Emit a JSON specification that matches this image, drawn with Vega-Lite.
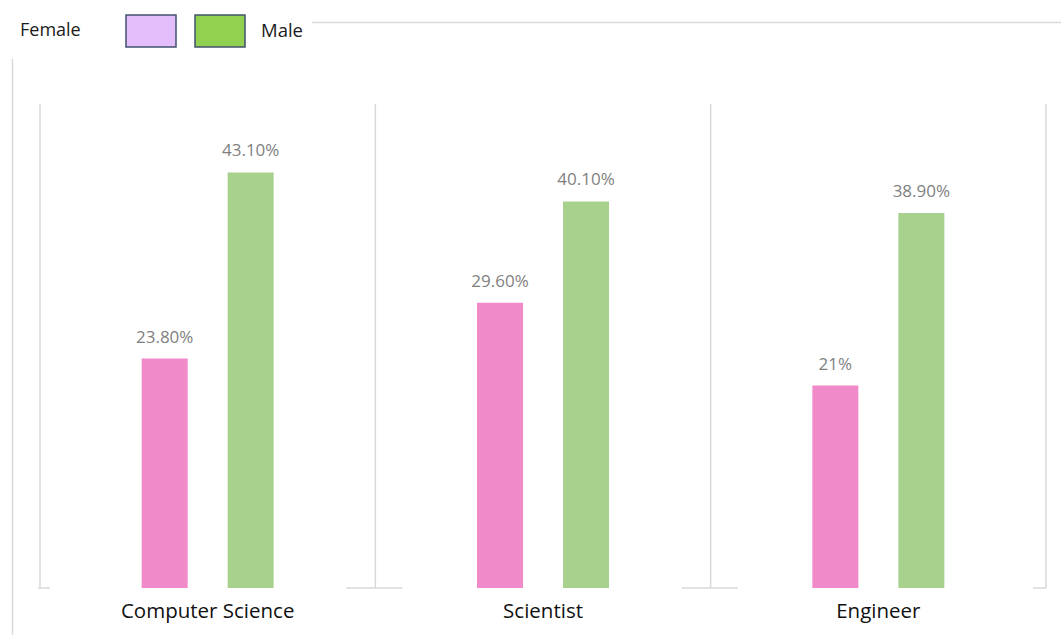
{
  "$schema": "https://vega.github.io/schema/vega-lite/v6.json",
  "autosize": {"type": "none"},
  "padding": {"left": 12, "top": 22, "right": 0, "bottom": 0},
  "width": 1049,
  "height": 613,
  "background": "white",
  "config": {
    "view": {"stroke": null},
    "font": "Open Sans"
  },
  "data": {
    "values": [
      {"category": "Computer Science", "gender": "Female", "value": 23.8, "label": "23.80%"},
      {"category": "Computer Science", "gender": "Male", "value": 43.1, "label": "43.10%"},
      {"category": "Scientist", "gender": "Female", "value": 29.6, "label": "29.60%"},
      {"category": "Scientist", "gender": "Male", "value": 40.1, "label": "40.10%"},
      {"category": "Engineer", "gender": "Female", "value": 21, "label": "21%"},
      {"category": "Engineer", "gender": "Male", "value": 38.9, "label": "38.90%"}
    ]
  },
  "encoding": {
    "x": {
      "field": "category",
      "type": "nominal",
      "sort": ["Computer Science", "Scientist", "Engineer"],
      "scale": {"paddingInner": 0.0934, "paddingOuter": 0.1108, "align": 0.5877},
      "axis": {
        "orient": "bottom",
        "offset": -46,
        "title": null,
        "domain": false,
        "ticks": false,
        "grid": false,
        "labelAngle": 0,
        "labelFont": "Open Sans",
        "labelFontSize": 20.5,
        "labelColor": "#111111",
        "labelPadding": 12,
        "labelOverlap": false
      }
    },
    "y": {
      "type": "quantitative",
      "scale": {"domain": [-4.876, 58.71], "nice": false, "zero": false},
      "axis": {
        "orient": "left",
        "title": null,
        "labels": false,
        "ticks": false,
        "domain": true,
        "domainColor": "#d9d9d9",
        "domainWidth": 1.5,
        "grid": true,
        "gridColor": "#d9d9d9",
        "gridWidth": 1.5,
        "values": [58.71]
      }
    }
  },
  "layer": [
    {
      "transform": [{"filter": "datum.gender === 'Female'"}],
      "mark": {"type": "rule", "color": "#d9d9d9", "strokeWidth": 1.5},
      "encoding": {
        "x": {"field": "category", "type": "nominal", "bandPosition": -0.05154, "sort": ["Computer Science", "Scientist", "Engineer"]},
        "y": {"datum": 0},
        "y2": {"datum": 50.2}
      }
    },
    {
      "transform": [{"filter": "datum.gender === 'Female' && datum.category === 'Engineer'"}],
      "mark": {"type": "rule", "color": "#d9d9d9", "strokeWidth": 1.5},
      "encoding": {
        "x": {"field": "category", "type": "nominal", "bandPosition": 1.05154, "sort": ["Computer Science", "Scientist", "Engineer"]},
        "y": {"datum": 0},
        "y2": {"datum": 50.2}
      }
    },
    {
      "transform": [{"filter": "datum.gender === 'Female' && datum.category !== 'Computer Science'"}],
      "mark": {"type": "rule", "color": "#d9d9d9", "strokeWidth": 1.5, "xOffset": -29, "x2Offset": 27},
      "encoding": {
        "x": {"field": "category", "type": "nominal", "bandPosition": -0.05154, "sort": ["Computer Science", "Scientist", "Engineer"]},
        "x2": {"field": "category", "bandPosition": -0.05154},
        "y": {"datum": 0}
      }
    },
    {
      "transform": [{"filter": "datum.gender === 'Female' && datum.category === 'Computer Science'"}],
      "mark": {"type": "rule", "color": "#d9d9d9", "strokeWidth": 1.5, "xOffset": -2, "x2Offset": 10},
      "encoding": {
        "x": {"field": "category", "type": "nominal", "bandPosition": -0.05154, "sort": ["Computer Science", "Scientist", "Engineer"]},
        "x2": {"field": "category", "bandPosition": -0.05154},
        "y": {"datum": 0}
      }
    },
    {
      "transform": [{"filter": "datum.gender === 'Female' && datum.category === 'Engineer'"}],
      "mark": {"type": "rule", "color": "#d9d9d9", "strokeWidth": 1.5, "xOffset": -13, "x2Offset": 0},
      "encoding": {
        "x": {"field": "category", "type": "nominal", "bandPosition": 1.05154, "sort": ["Computer Science", "Scientist", "Engineer"]},
        "x2": {"field": "category", "bandPosition": 1.05154},
        "y": {"datum": 0}
      }
    },
    {
      "mark": {"type": "bar", "y2Offset": -5},
      "encoding": {
        "xOffset": {
          "field": "gender",
          "type": "nominal",
          "scale": {"paddingInner": 0.4651, "paddingOuter": 1}
        },
        "y": {"field": "value", "type": "quantitative", "stack": null},
        "color": {
          "field": "gender",
          "type": "nominal",
          "scale": {"range": ["#F08AC8", "#A9D18E"]},
          "legend": null
        }
      }
    },
    {
      "mark": {"type": "point", "filled": true, "size": 0},
      "encoding": {
        "xOffset": {"field": "gender", "type": "nominal"},
        "y": {"field": "value", "type": "quantitative", "stack": null},
        "fill": {
          "field": "gender",
          "type": "nominal",
          "scale": {"domain": ["Female", "Male"], "range": ["#e3befa", "#92d050"]},
          "legend": {
            "orient": "none",
            "legendX": -1,
            "legendY": -26,
            "direction": "horizontal",
            "zindex": 1,
            "padding": 9,
            "fillColor": "white",
            "title": "Female",
            "titleOrient": "left",
            "titleAnchor": "middle",
            "titleBaseline": "line-top",
            "titleLineHeight": 6.4,
            "titleFont": "Open Sans",
            "titleFontSize": 18,
            "titleFontWeight": "normal",
            "titleColor": "#1a1a1a",
            "titlePadding": 44,
            "symbolType": "M-1,-0.64H1V0.64H-1Z",
            "symbolSize": 2500,
            "symbolOpacity": 1,
            "symbolStrokeColor": "#42526e",
            "symbolStrokeWidth": 1.5,
            "labelExpr": "datum.label === 'Male' ? 'Male' : ''",
            "labelFont": "Open Sans",
            "labelFontSize": 18.5,
            "labelColor": "#1a1a1a",
            "labelOffset": 15,
            "columnPadding": 0
          }
        }
      }
    },
    {
      "mark": {"type": "text", "baseline": "alphabetic", "align": "center", "dy": -16, "fontSize": 17, "font": "Open Sans", "color": "#7f7f7f"},
      "encoding": {
        "xOffset": {"field": "gender", "type": "nominal"},
        "y": {"field": "value", "type": "quantitative", "stack": null},
        "text": {"field": "label"}
      }
    }
  ]
}
